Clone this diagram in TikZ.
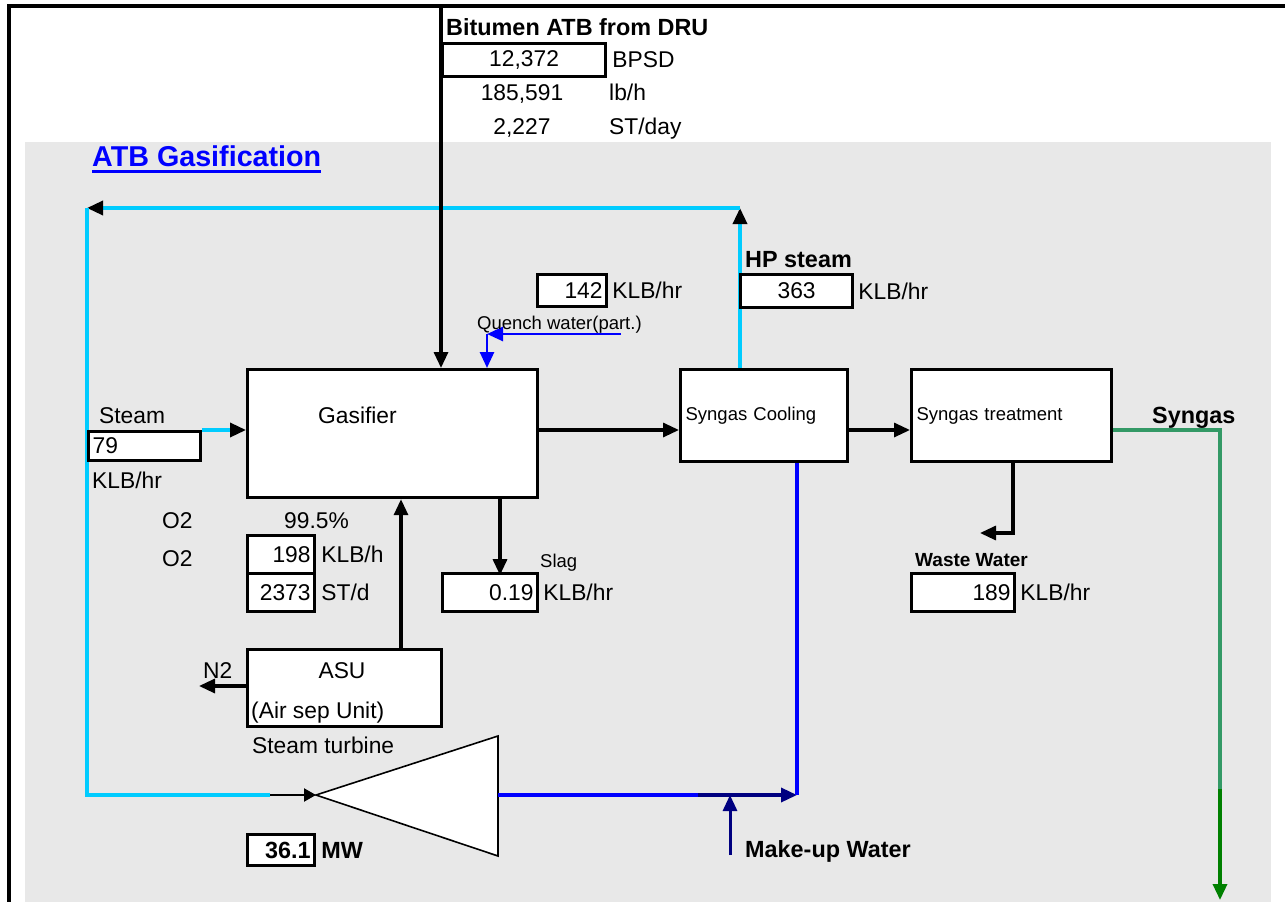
\documentclass[tikz,border=0pt]{standalone}
\usepackage{fontspec}
\setmainfont{Liberation Sans}
\usetikzlibrary{arrows.meta, positioning, calc}
\definecolor{bgGrey}{RGB}{232,232,232}
\definecolor{steamCyan}{RGB}{0,204,255}
\definecolor{waterBlue}{RGB}{0,0,255}
\definecolor{makeupNavy}{RGB}{0,0,128}
\definecolor{syngasGreen}{RGB}{51,153,102}
\definecolor{syngasDark}{RGB}{0,128,0}
\newcommand{\flowtxt}{\fontsize{22.8}{26}\selectfont}
\newcommand{\flowbold}{\fontsize{23.4}{27}\selectfont\bfseries}
\newcommand{\flowsmall}{\fontsize{18.5}{22}\selectfont}
\newcommand{\flowsmallbold}{\fontsize{19}{22}\selectfont\bfseries}
\newcommand{\flowtitle}{\fontsize{28.7}{33}\selectfont\bfseries}

\begin{document}
\begin{tikzpicture}[
  x=1pt, y=-1pt,
  proc/.style={
    draw, line width=3.2pt, fill=white, anchor=north west,
    inner xsep=5pt, inner ysep=0pt, text width=#1,
    align=left, font=\flowsmall
  },
  valbox/.style={
    draw, line width=3.2pt, fill=white, anchor=north west,
    inner xsep=4pt, inner ysep=0pt, text width=#1, font=\flowtxt
  },
  txt/.style={inner sep=0pt, anchor=base west, font=\flowtxt},
  flow/.style={line width=3.2pt, black},
  steam/.style={line width=3.4pt, steamCyan},
  water/.style={line width=3.4pt, waterBlue},
  arr/.style={-{Triangle[length=16pt,width=14pt]}},
  blk/.style={-{Triangle[length=16pt,width=14pt,color=black]}}
]
  \useasboundingbox (0,0) rectangle (1285,902);
  \fill[bgGrey] (25,142) rectangle (1271,902);
  \draw[line width=3.6pt] (9,902) -- (9,6) -- (1285,6);

  % Units
  \node[proc=280, minimum height=128] (gasifier) at (246,368) {};
  \node[proc=157, minimum height=92] (cool) at (679,368) {Syngas Cooling};
  \node[proc=190, minimum height=92] (treat) at (910,368) {Syngas treatment};
  \node[proc=184, minimum height=77] (asu) at (246,648) {};

  \coordinate (dru) at (441,6);
  \coordinate (flowline) at (0,430);
  \coordinate (hpturn) at (740,208);
  \coordinate (loopturn) at (87,208);
  \coordinate (loopbottom) at (87,795);
  \coordinate (turbfeed) at (270,795);
  \coordinate (turbin) at (316,795);
  \coordinate (turbout) at (498,795);
  \coordinate (mkjoin) at (698,795);
  \coordinate (wturn) at (797,795);
  \coordinate (mkin) at (730,855);
  \coordinate (qstart) at (621,334);
  \coordinate (qturn) at (487,334);
  \coordinate (slagx) at (500,534);
  \coordinate (o2x) at (401,600);
  \coordinate (n2out) at (199,686);
  \coordinate (wwturn) at (1013,533);
  \coordinate (wwout) at (980,533);
  \coordinate (synturn) at (1220,430);
  \coordinate (syndark) at (1220,789);
  \coordinate (synout) at (1220,900);

  % Steam loop
  \draw[steam, blk] (cool.north -| hpturn) -- (hpturn);
  \draw[steam, blk] (hpturn) -- (loopturn);
  \draw[steam] (loopturn) -- (loopbottom) -- (turbfeed);

  % Turbine
  \draw[line width=1.6pt, fill=white]
    (turbin) -- (498,736) -- (498,856) -- cycle;
  \draw[line width=2.2pt, -{Triangle[length=12pt,width=13pt]}]
    (turbfeed) -- (turbin);
  \draw[water] (turbout) -- (mkjoin);
  \draw[line width=3.4pt, makeupNavy, arr] (mkjoin) -- (wturn);
  \draw[water] (wturn) -- (cool.south -| wturn);
  \draw[line width=3pt, makeupNavy, arr] (mkin) -- (mkin |- wturn);

  % Process flows
  \draw[flow, arr] (dru) -- (gasifier.north -| dru);
  \draw[line width=2.6pt, waterBlue, arr] (qstart) -- (qturn);
  \draw[line width=2.6pt, waterBlue, arr] (qturn) -- (gasifier.north -| qturn);
  \draw[flow, arr] (gasifier.east |- flowline) -- (cool.west |- flowline);
  \draw[flow, arr] (cool.east |- flowline) -- (treat.west |- flowline);
  \draw[line width=3.4pt, syngasGreen]
    (treat.east |- flowline) -- (synturn) -- (syndark);
  \draw[line width=3.4pt, syngasDark, arr] (syndark) -- (synout);
  \draw[flow, arr] (treat.south -| wwturn) -- (wwturn) -- (wwout);
  \draw[flow, arr] (gasifier.south -| slagx) -- ++(0,76);
  \draw[flow, arr] (asu.north -| o2x) -- (gasifier.south -| o2x);
  \draw[flow, arr] (asu.west |- n2out) -- (n2out);

  % Values
  \node[valbox=155, align=center, minimum height=33] (b12372) at (441,42) {12,372};
  \node[valbox=61, align=right, minimum height=32] (b142) at (536,273) {142};
  \node[valbox=104, align=center, minimum height=33] (b363) at (739,273) {363};
  \node[valbox=104, align=left, minimum height=29] (b79) at (87,430) {79};
  \node[valbox=59, align=right, minimum height=38] (bo2) at (246,534) {198};
  \node[valbox=59, align=right, minimum height=38] (bo2t) at (246,572) {2373};
  \node[valbox=87, align=right, minimum height=38] (bslag) at (441,572) {0.19};
  \node[valbox=95, align=right, minimum height=38] (bww) at (910,572) {189};
  \node[valbox=59, align=right, minimum height=31, font=\flowbold] (bmw) at (246,833) {36.1};
  \draw[steam, blk] (b79.north east) -- (gasifier.west |- b79.north east);

  % Labels
  \foreach \b in {b142, b363, bslag, bww}
    \node[font=\flowtxt, inner sep=0pt, right=4pt] at (\b.east) {KLB/hr};
  \node[font=\flowtxt, inner sep=0pt, right=5pt] at (b12372.east) {BPSD};
  \node[font=\flowtxt, inner sep=0pt, right=5pt] at (bo2.east) {KLB/h};
  \node[font=\flowtxt, inner sep=0pt, right=5pt] at (bo2t.east) {ST/d};
  \node[font=\flowbold, inner sep=0pt, right=5pt] at (bmw.east) {MW};

  \node[txt, font=\flowbold] (dru-lbl) at (446,35) {Bitumen ATB from DRU};
  \node[txt, anchor=base] (lbh) at (522,100) {185,591};
  \node[txt] (lbh-u) at (609,100) {lb/h};
  \node[txt, anchor=base] (stday) at (522,134) {2,227};
  \node[txt] (stday-u) at (609,134) {ST/day};
  \node[txt, font=\flowtitle, text=waterBlue] (title) at (92,166) {ATB Gasification};
  \draw[waterBlue, line width=3pt]
    ([yshift=-5.5pt]title.base west) -- ([yshift=-5.5pt]title.base east);
  \node[txt, font=\flowbold] (hp-lbl) at (745,267) {HP steam};
  \node[txt, font=\flowsmall] (quench-lbl) at (477,329) {Quench water(part.)};
  \node[txt] (steam-lbl) at (99,423) {Steam};
  \node[txt] (steam-u) at (92,488) {KLB/hr};
  \node[txt] (gasifier-lbl) at (318,423) {Gasifier};
  \node[txt] (o2a) at (162,528) {O2};
  \node[txt] (purity) at (284,528) {99.5\%};
  \node[txt] (o2b) at (162,566) {O2};
  \node[txt, font=\flowsmall] (slag-lbl) at (540,567) {Slag};
  \node[txt, font=\flowbold] (syngas-lbl) at (1152,423) {Syngas};
  \node[txt, font=\flowsmallbold] (ww-lbl) at (915,566) {Waste Water};
  \node[txt] (n2-lbl) at (203,678) {N2};
  \node[txt, anchor=base] (asu-lbl) at (342,678) {ASU};
  \node[txt] (asu-sub) at (251,718) {(Air sep Unit)};
  \node[txt] (turb-lbl) at (252,753) {Steam turbine};
  \node[txt, font=\flowbold] (mk-lbl) at (745,857) {Make-up Water};
\end{tikzpicture}
\end{document}
